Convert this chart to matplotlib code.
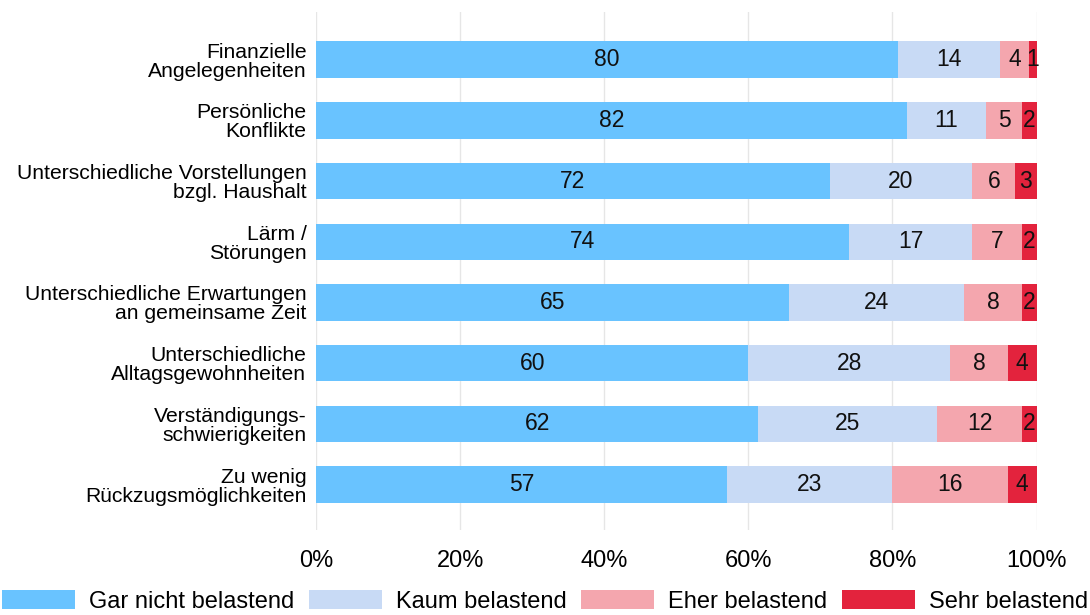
import matplotlib.pyplot as plt
import numpy as np

plt.rcParams['font.family'] = ['Liberation Sans', 'DejaVu Sans']

categories = [
    'Finanzielle\nAngelegenheiten',
    'Persönliche\nKonflikte',
    'Unterschiedliche Vorstellungen\nbzgl. Haushalt',
    'Lärm /\nStörungen',
    'Unterschiedliche Erwartungen\nan gemeinsame Zeit',
    'Unterschiedliche\nAlltagsgewohnheiten',
    'Verständigungs-\nschwierigkeiten',
    'Zu wenig\nRückzugsmöglichkeiten',
]
gar_nicht = [80, 82, 72, 74, 65, 60, 62, 57]
kaum = [14, 11, 20, 17, 24, 28, 25, 23]
eher = [4, 5, 6, 7, 8, 8, 12, 16]
sehr = [1, 2, 3, 2, 2, 4, 2, 4]
series_names = ['Gar nicht belastend', 'Kaum belastend', 'Eher belastend', 'Sehr belastend']
colors = ['#69C3FF', '#C8DAF5', '#F4A6AE', '#E3233D']

data = np.array([gar_nicht, kaum, eher, sehr], dtype=float)
shares = data / data.sum(axis=0) * 100

fig = plt.figure(figsize=(10.9, 6.15), dpi=100)
ax = fig.add_axes([0.29, 0.138, 0.661, 0.842])

y = np.arange(len(categories))
left = np.zeros(len(categories))
for i, name in enumerate(series_names):
    ax.barh(y, shares[i], left=left, height=0.6, color=colors[i], label=name, zorder=2)
    for j in range(len(categories)):
        ax.text(left[j] + shares[i][j] / 2, y[j], str(int(data[i][j])),
                ha='center', va='center', fontsize=16.5, color='#111111', zorder=3)
    left += shares[i]

ax.set_xlim(0, 100)
ax.set_ylim(len(categories) - 0.25, -0.78)
ax.set_xticks([0, 20, 40, 60, 80, 100])
ax.set_xticklabels(['0%', '20%', '40%', '60%', '80%', '100%'], fontsize=17)
ax.set_yticks(y)
ax.set_yticklabels(categories, fontsize=15.2, linespacing=1.0)
ax.tick_params(axis='y', length=0, pad=7)
ax.tick_params(axis='x', length=0, pad=14)
ax.grid(axis='x', color='#E6E6E6', linewidth=1, zorder=0)
for s in ax.spines.values():
    s.set_visible(False)

fig.legend(loc='lower center', bbox_to_anchor=(0.5, 0.004), ncol=4, frameon=False,
           fontsize=17, handlelength=3.1, handleheight=0.85, columnspacing=0.6,
           handletextpad=0.6, borderpad=0, borderaxespad=0)

fig.savefig('out.png', dpi=100)
